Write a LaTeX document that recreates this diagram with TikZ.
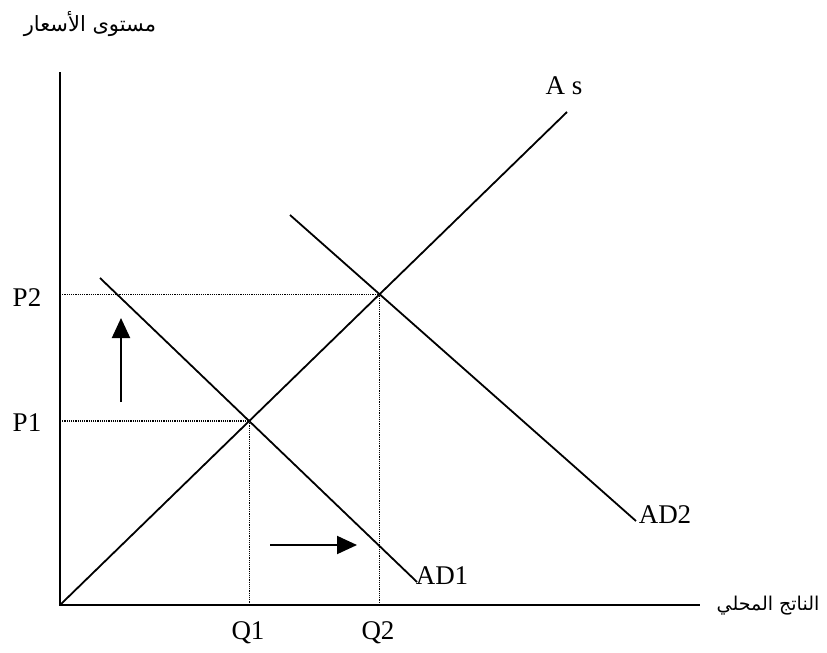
\documentclass[tikz,border=0pt]{standalone}
\usepackage{fontspec}
\setmainfont{Liberation Serif}
\newfontfamily\arabicfont[Script=Arabic]{DejaVu Sans}
\TeXXeTstate=1
\usetikzlibrary{arrows.meta}
\begin{document}
\begin{tikzpicture}[x=1pt,y=-1pt,
  curve/.style={line width=1.8pt},
  axis/.style={line width=2.6pt},
  guide/.style={densely dotted,line width=1.2pt},
  lab/.style={font=\fontsize{27}{29}\selectfont,inner sep=0pt},
  arlab/.style={font=\arabicfont\fontsize{#1}{20}\selectfont,inner sep=0pt},
  shiftarrow/.style={line width=2pt,-{Triangle[length=20pt,width=18pt]}}]
\useasboundingbox (0,0) rectangle (827,653);
% axes
\coordinate (O) at (60,605);
\coordinate (ytop) at (60,72);
\coordinate (xend) at (700,605);
\draw[axis] (ytop) -- (O) -- (xend);
% curves
\coordinate (as0) at (60,605);
\coordinate (as1) at (567,112);
\coordinate (ad1a) at (100,278);
\coordinate (ad1b) at (417,582);
\coordinate (ad2a) at (290,215);
\coordinate (ad2b) at (636,521);
\draw[curve] (as0) -- (as1);
\draw[curve] (ad1a) -- (ad1b);
\draw[curve] (ad2a) -- (ad2b);
% equilibria
\coordinate (E1) at (intersection of as0--as1 and ad1a--ad1b);
\coordinate (E2) at (intersection of as0--as1 and ad2a--ad2b);
\coordinate (P1) at (O |- E1);
\coordinate (P2) at (O |- E2);
\coordinate (Q1) at (E1 |- O);
\coordinate (Q2) at (E2 |- O);
\draw[guide] (P1) -- (E1) -- (Q1);
\draw[guide] (P2) -- (E2) -- (Q2);
% labels
\node[lab] (lP2) at (27,298) {P2};
\node[lab] (lP1) at (27,423) {P1};
\node[lab] (lQ1) at (248,633) {Q1};
\node[lab] (lQ2) at (378,633) {Q2};
\node[lab] (lAS) at (564,86) {A s};
\node[lab] (lAD1) at (442,576) {AD1};
\node[lab] (lAD2) at (665,515) {AD2};
\node[arlab=21] (ylab) at (90,24) {\beginR مستوى الأسعار\endR};
\node[arlab=19] (xlab) at (768,606) {\beginR الناتج المحلي\endR};
% shift arrows
\coordinate (ua0) at (121,402);
\coordinate (ua1) at (121,318);
\draw[shiftarrow] (ua0) -- (ua1);
\coordinate (ra0) at (270,545);
\coordinate (ra1) at (357,545);
\draw[shiftarrow] (ra0) -- (ra1);
\end{tikzpicture}
\end{document}
